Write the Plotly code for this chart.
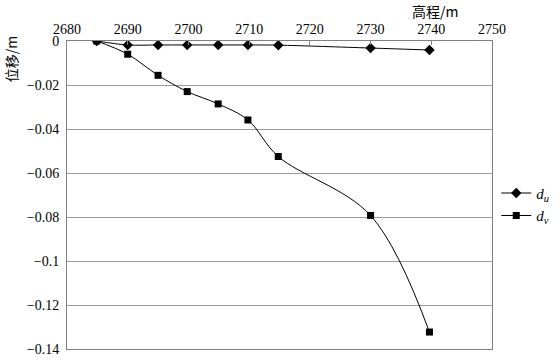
import plotly.graph_objects as go

elevation = [2684.9, 2690.0, 2695.0, 2699.8, 2704.9, 2709.8, 2714.8, 2730.0, 2739.7]
d_u = [0.0, -0.0018, -0.0018, -0.0018, -0.0018, -0.0018, -0.0019, -0.0032, -0.0041]
d_v = [0.0, -0.0060, -0.0156, -0.0230, -0.0286, -0.0359, -0.0525, -0.0793, -0.1323]
y_ticks = [0, -0.02, -0.04, -0.06, -0.08, -0.1, -0.12, -0.14]
x_ticks = [2680, 2690, 2700, 2710, 2720, 2730, 2740, 2750]

font_family = "Liberation Serif"
grid = "#9a9a9a"

fig = go.Figure()
fig.add_trace(go.Scatter(
    x=elevation, y=d_u, mode="lines+markers", name="<i>d</i><sub><i>u</i></sub>",
    line=dict(color="black", width=1, shape="spline"),
    marker=dict(symbol="diamond", size=8, color="black"),
))
fig.add_trace(go.Scatter(
    x=elevation, y=d_v, mode="lines+markers", name="<i>d</i><sub><i>v</i></sub>",
    line=dict(color="black", width=1, shape="spline", smoothing=1),
    marker=dict(symbol="square", size=7, color="black"),
))

fig.update_layout(
    width=560, height=361,
    margin=dict(l=67, r=68, t=41, b=4),
    paper_bgcolor="white", plot_bgcolor="white",
    font=dict(family=font_family, size=14, color="black"),
    showlegend=True,
    legend=dict(x=1.01, xanchor="left", y=0.47, yanchor="middle",
                font=dict(size=15, family=font_family), bgcolor="rgba(0,0,0,0)",
                tracegroupgap=4),
    xaxis=dict(
        side="top", range=[2680, 2750], tickvals=x_ticks,
        showgrid=False, zeroline=False,
        showline=True, linecolor="#808080", linewidth=1, mirror=True,
        ticks="inside", ticklen=4, tickcolor="#808080",
        tickfont=dict(size=14, family=font_family),
        ticklabeloverflow="allow",
    ),
    yaxis=dict(
        range=[-0.14, 0], tickvals=y_ticks,
        showgrid=True, gridcolor=grid, gridwidth=1,
        zeroline=False,
        showline=True, linecolor="#808080", linewidth=1, mirror=True,
        ticks="", tickfont=dict(size=14, family=font_family),
        ticklabeloverflow="allow", ticklabelstandoff=4,
    ),
    annotations=[
        dict(text="位移/m", xref="paper", yref="paper", x=-0.13, y=0.94,
             showarrow=False, textangle=-90, xanchor="center", yanchor="middle",
             font=dict(family="Noto Sans CJK SC", size=14)),
        dict(text="高程/m", xref="paper", yref="paper", x=0.865, y=1.0, yshift=30,
             showarrow=False, xanchor="center", yanchor="middle",
             font=dict(family="Noto Sans CJK SC", size=14)),
    ],
)

fig.write_html("out.html")
